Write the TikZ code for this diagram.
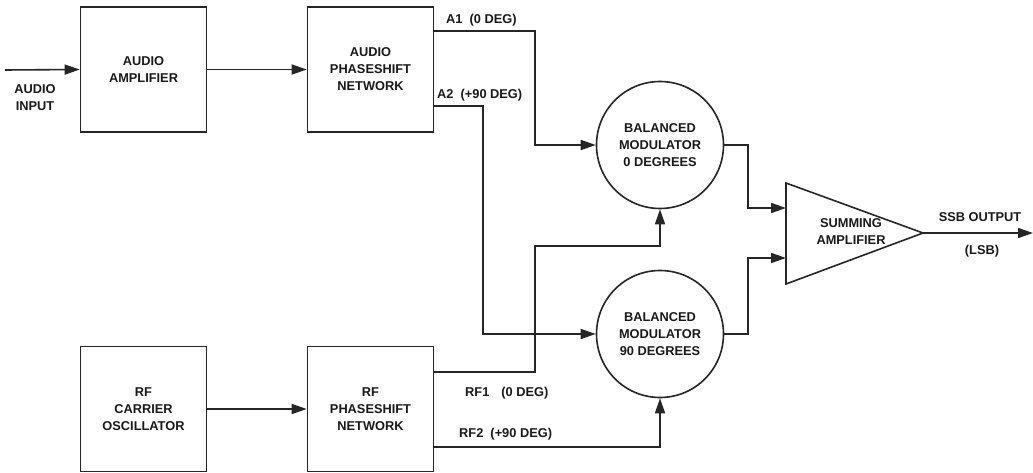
\documentclass[tikz,border=0pt]{standalone}
\usepackage{fontspec}
\setmainfont{Liberation Sans}
\usetikzlibrary{arrows.meta}
\tikzset{
  txt/.style={font=\bfseries\fontsize{12.8}{17}\selectfont, text=black!90},
  blk/.style={draw=black!85, line width=1.6pt, rectangle, minimum width=126pt, minimum height=125pt, inner sep=0pt, align=center, txt},
  modc/.style={draw=black!85, line width=1.6pt, circle, minimum size=127pt, inner sep=0pt, align=center, txt},
  lbl/.style={txt, align=center, inner sep=0pt},
  wire/.style={draw=black!85, line width=1.6pt},
  arr/.style={wire, -{Triangle[length=15pt,width=10pt]}}
}
\begin{document}
\begin{tikzpicture}[x=1pt,y=-1pt]
\useasboundingbox (0,0) rectangle (1033,473);
% blocks
\node[blk] (aamp) at (143.5,69.5) {AUDIO\\AMPLIFIER};
\node[blk] (aps) at (370.5,69.5) {AUDIO\\PHASESHIFT\\NETWORK};
\node[blk] (rfo) at (143.5,409) {RF\\CARRIER\\OSCILLATOR};
\node[blk] (rfps) at (370.5,409) {RF\\PHASESHIFT\\NETWORK};
\node[modc] (bm0) at (660,145) {BALANCED\\MODULATOR\\0 DEGREES};
\node[modc] (bm90) at (660,334) {BALANCED\\MODULATOR\\90 DEGREES};
% summing amplifier
\coordinate (satop) at (786,183);
\coordinate (sabot) at (786,284);
\coordinate (saout) at (923,233);
\coordinate (sain1) at (786,208);
\coordinate (sain2) at (786,258);
\draw[wire, line join=miter] (satop) -- (sabot) -- (saout) -- cycle;
\node[lbl] (satext) at (851,232) {SUMMING\\AMPLIFIER};
% input
\coordinate (ain) at (5,70);
\node[lbl] (ainl) at (35,98) {AUDIO\\INPUT};
\draw[arr] (ain) -- (aamp.west);
\draw[arr] (aamp) -- (aps);
\draw[arr] (rfo) -- (rfps);
% audio phase outputs
\draw[arr] ([yshift=-25pt]aps.north east) -| (535,145) -- (bm0.west);
\draw[arr] ([yshift=-100pt]aps.north east) -| (483,334) -- (bm90.west);
\node[lbl, anchor=west] (a1l) at (446,20) {A1\ \ (0 DEG)};
\node[lbl, anchor=west] (a2l) at (437,95) {A2\ \ (+90 DEG)};
% rf phase outputs
\draw[arr] ([yshift=37pt]rfps.east) -| (535,246) -| (bm0.south);
\draw[arr] ([yshift=-38pt]rfps.east) -| (bm90.south);
\node[lbl, anchor=west] (rf1l) at (465,393) {RF1\hspace{12pt}(0 DEG)};
\node[lbl, anchor=west] (rf2l) at (459,434) {RF2\ \ (+90 DEG)};
% modulator outputs
\draw[arr] (bm0.east) -| (748,208) -- (sain1);
\draw[arr] (bm90.east) -| (748,258) -- (sain2);
% output
\coordinate (sout) at (1033,233);
\draw[arr] (saout) -- (sout);
\node[lbl] (ssbl) at (980,217) {SSB OUTPUT};
\node[lbl] (lsbl) at (982,251) {(LSB)};
\end{tikzpicture}
\end{document}
